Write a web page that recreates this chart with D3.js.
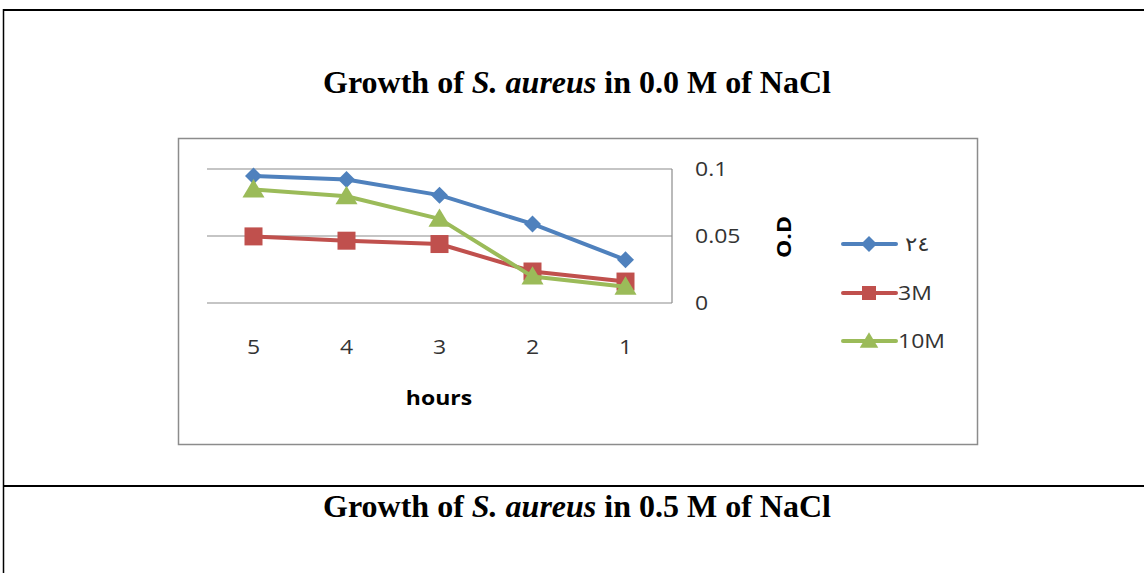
<!DOCTYPE html>
<html><head><meta charset="utf-8">
<script src="https://cdn.jsdelivr.net/npm/d3@7"></script>
<style>body{margin:0;background:#fff}svg{display:block}</style>
</head><body>
<svg id="c" width="1144" height="573"></svg>
<script>
const hours = ["5","4","3","2","1"];
const seriesNames = ["٢٤","3M","10M"];
const blueVals  = [0.0947, 0.0922, 0.0805, 0.0590, 0.0322];
const redVals   = [0.0497, 0.0465, 0.0440, 0.0235, 0.0160];
const greenVals = [0.0847, 0.0797, 0.0628, 0.0197, 0.0122];
const yTicks = [0, 0.05, 0.1];
const yTickLabels = ["0","0.05","0.1"];
const colors = ["#4F81BD","#C0504D","#9BBB59"];
const shapes = ["diamond","square","triangle"];

const svg = d3.select("#c");
// document table borders
svg.append("line").attr("x1",3).attr("x2",1144).attr("y1",10).attr("y2",10).attr("stroke","#000").attr("stroke-width",2);
svg.append("line").attr("x1",3.5).attr("x2",3.5).attr("y1",9).attr("y2",573).attr("stroke","#000").attr("stroke-width",1.5);
svg.append("line").attr("x1",3).attr("x2",1144).attr("y1",486).attr("y2",486).attr("stroke","#000").attr("stroke-width",2);

const titleFont = "'Liberation Serif','Times New Roman',serif";
function title(y, conc){
  const t = svg.append("text").attr("x",577).attr("y",y).attr("text-anchor","middle")
    .attr("font-family",titleFont).attr("font-weight","bold").attr("font-size",32).attr("fill","#000");
  t.append("tspan").text("Growth of ");
  t.append("tspan").attr("font-style","italic").text("S. aureus");
  t.append("tspan").text(" in "+conc+" M of NaCl");
}
title(93,"0.0");
title(517,"0.5");

// chart frame
svg.append("rect").attr("x",178.5).attr("y",138.5).attr("width",799).attr("height",306)
  .attr("fill","#fff").attr("stroke","#8c8c8c").attr("stroke-width",1.5);

const x = d3.scalePoint().domain(hours).range([253.5,625.5]);
const y = d3.scaleLinear().domain([0,0.1]).range([303,169]);
const left = 207, right = 672;

const font = "'Open Sans','Liberation Sans',sans-serif";
const SX = 1.15;
function txt(px, py, s, opts={}){
  const t = svg.append("text")
    .attr("transform",`translate(${px},${py})${opts.rot?" rotate(-90)":""} scale(${SX},1)`)
    .attr("text-anchor",opts.anchor||"start")
    .attr("font-family",opts.family||font).attr("font-size",opts.size||20)
    .attr("font-weight",opts.bold?"bold":"normal")
    .attr("fill",opts.fill||"#333").text(s);
  return t;
}
// gridlines
svg.append("g").selectAll("line").data(yTicks).join("line")
  .attr("x1",left).attr("x2",right).attr("y1",d=>y(d)).attr("y2",d=>y(d))
  .attr("stroke","#8c8c8c").attr("stroke-width",1.2);
svg.append("line").attr("x1",right).attr("x2",right).attr("y1",y(0.1)).attr("y2",y(0))
  .attr("stroke","#8c8c8c").attr("stroke-width",1.2);

// y axis labels (right)
yTicks.forEach((d,i)=>txt(695, y(d)+7, yTickLabels[i]));
// x labels
hours.forEach(h=>txt(x(h), 354, h, {anchor:"middle"}));
txt(439, 405, "hours", {anchor:"middle", bold:true, fill:"#000"});
txt(791, 237, "O.D", {anchor:"middle", bold:true, fill:"#000", rot:true});

function marker(g, shape, cx, cy, color, s){
  if(shape==="diamond"){
    g.append("path").attr("d",`M${cx},${cy-s*0.5}L${cx+s*0.5},${cy}L${cx},${cy+s*0.5}L${cx-s*0.5},${cy}Z`).attr("fill",color);
  } else if(shape==="square"){
    g.append("rect").attr("x",cx-s*0.5).attr("y",cy-s*0.5).attr("width",s).attr("height",s).attr("fill",color);
  } else {
    g.append("path").attr("d",`M${cx},${cy-s*0.55}L${cx+s*0.58},${cy+s*0.42}L${cx-s*0.58},${cy+s*0.42}Z`).attr("fill",color);
  }
}

const allVals = [blueVals, redVals, greenVals];
const line = d3.line().x((d,i)=>x(hours[i])).y(d=>y(d));
const sizes = [17,18,19];
allVals.forEach((vals,k)=>{
  const g = svg.append("g");
  g.append("path").attr("d",line(vals)).attr("fill","none").attr("stroke",colors[k]).attr("stroke-width",4).attr("stroke-linejoin","round");
  vals.forEach((v,i)=>marker(g, shapes[k], x(hours[i]), y(v), colors[k], sizes[k]));
});

// legend
const legY = [244, 293, 341];
seriesNames.forEach((n,k)=>{
  const g = svg.append("g");
  g.append("line").attr("x1",843).attr("x2",896).attr("y1",legY[k]).attr("y2",legY[k])
    .attr("stroke",colors[k]).attr("stroke-width",4).attr("stroke-linecap","round");
  marker(g, shapes[k], 869, legY[k], colors[k], k===0?16:k===1?14:16);
  txt(k===0?905:898, legY[k]+7, n, {family:k===0?"'Noto Sans','DejaVu Sans',sans-serif":font});
});
</script>
</body></html>
